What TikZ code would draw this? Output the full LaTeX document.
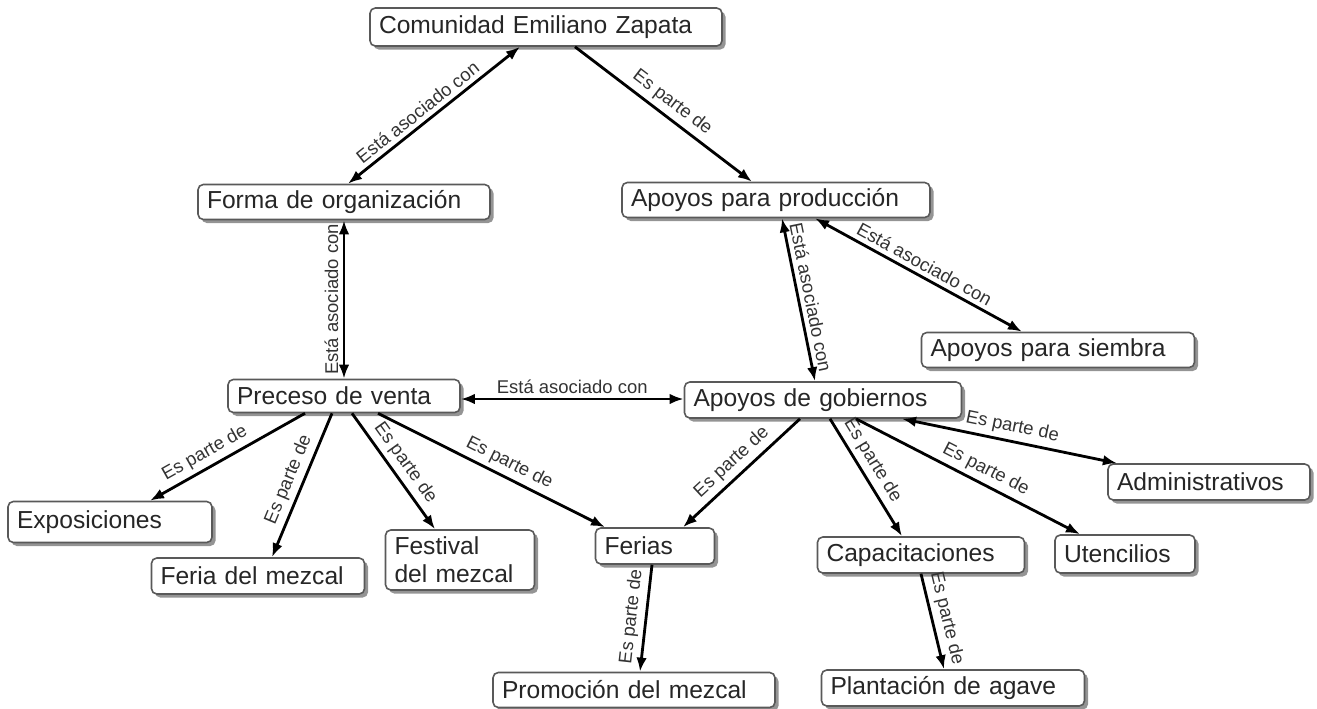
\documentclass[tikz,border=0pt]{standalone}
\usepackage{fontspec}
\setmainfont{Liberation Sans}
\usetikzlibrary{arrows.meta, calc, shadows}

\begin{document}
\begin{tikzpicture}[
box/.style={rectangle, draw=black!65, line width=0.9pt, rounded corners=3pt, fill=white, drop shadow={shadow xshift=2pt, shadow yshift=-2pt, fill=black!60, opacity=0.7}, align=left, inner xsep=0.18cm, font=\fontsize{14}{16}\selectfont, text=black!85, minimum height=0.7cm},
link/.style={-{Latex[length=8pt,width=6pt]}, line width=1.6pt},
duo/.style={{Latex[length=8pt,width=6pt]}-{Latex[length=8pt,width=6pt]}, line width=1.6pt},
lbl/.style={sloped, above, font=\fontsize{10.5}{12}\selectfont, text=black!80, inner sep=2.5pt}
]
\useasboundingbox (0,0) rectangle (26.34,-14.16);

\node[box, text width=6.68cm, minimum height=0.76cm] (com) at (10.92,-0.54) {Comunidad Emiliano Zapata};
\node[box, text width=5.48cm] (forma) at (6.88,-4.04) {Forma de organización};
\node[box, text width=5.80cm] (prod) at (15.52,-4.00) {Apoyos para producción};
\node[box, text width=5.10cm] (siembra) at (21.16,-7.00) {Apoyos para siembra};
\node[box, text width=4.28cm, minimum height=0.66cm] (venta) at (6.88,-7.92) {Preceso de venta};
\node[box, text width=5.18cm, minimum height=0.72cm] (gob) at (16.46,-8.00) {Apoyos de gobiernos};
\node[box, text width=3.72cm, minimum height=0.82cm] (expo) at (2.20,-10.44) {Exposiciones};
\node[box, text width=3.90cm, minimum height=0.72cm] (feria) at (5.16,-11.52) {Feria del mezcal};
\node[box, text width=2.62cm, minimum height=1.20cm] (festival) at (9.20,-11.20) {Festival\\del mezcal};
\node[box, text width=2.02cm, minimum height=0.72cm] (ferias) at (13.10,-10.92) {Ferias};
\node[box, text width=5.28cm] (promo) at (12.68,-13.80) {Promoción del mezcal};
\node[box, text width=3.78cm, minimum height=0.72cm] (capac) at (18.42,-11.10) {Capacitaciones};
\node[box, text width=4.90cm, minimum height=0.72cm] (plant) at (19.06,-13.76) {Plantación de agave};
\node[box, text width=2.44cm, minimum height=0.76cm] (uten) at (22.50,-11.08) {Utencilios};
\node[box, text width=3.68cm, minimum height=0.72cm] (admin) at (24.18,-9.64) {Administrativos};

\draw[duo] ([xshift=0.08cm]forma.north) -- node[lbl, pos=0.45]{Está asociado con} ([xshift=-0.52cm]com.south);
\draw[link] ([xshift=0.58cm]com.south) -- node[lbl]{Es parte de} ([xshift=-0.48cm]prod.north);
\draw[duo] (venta.north) -- node[lbl]{Está asociado con} (forma.south);
\draw[duo] ([xshift=0.12cm]prod.south) -- node[lbl]{Está asociado con} ([xshift=-0.16cm]gob.north);
\draw[duo] ([xshift=0.78cm]prod.south) -- node[lbl]{Está asociado con} ([xshift=-0.72cm]siembra.north);
\draw[duo] ([yshift=-0.06cm]venta.east) -- node[lbl]{Está asociado con} ([yshift=-0.06cm]venta.east -| gob.west);
\draw[link] ([xshift=-0.78cm]venta.south) -- node[lbl, pos=0.6]{Es parte de} ([xshift=0.80cm]expo.north);
\draw[link] ([xshift=-0.24cm]venta.south) -- node[lbl]{Es parte de} ([xshift=0.28cm]feria.north);
\draw[link] ([xshift=0.16cm]venta.south) -- node[lbl]{Es parte de} ([xshift=-0.50cm]festival.north);
\draw[link] ([xshift=0.68cm]venta.south) -- node[lbl, pos=0.55]{Es parte de} ([xshift=-1.00cm]ferias.north);
\draw[link] ([xshift=-0.46cm]gob.south) -- node[lbl]{Es parte de} ([xshift=0.56cm]ferias.north);
\draw[link] ([xshift=0.14cm]gob.south) -- node[lbl, pos=0.42]{Es parte de} ([xshift=-0.38cm]capac.north);
\draw[link] ([xshift=0.66cm]gob.south) -- node[lbl, pos=0.55]{Es parte de} ([xshift=-0.90cm]uten.north);
\draw[duo] ([xshift=1.58cm]gob.south) -- node[lbl]{Es parte de} ([xshift=-1.84cm]admin.north);
\draw[link] ([xshift=-0.06cm]ferias.south) -- node[lbl]{Es parte de} ([xshift=0.12cm]promo.north);
\draw[link] (capac.south) -- node[lbl]{Es parte de} ([xshift=-0.18cm]plant.north);
\end{tikzpicture}
\end{document}
